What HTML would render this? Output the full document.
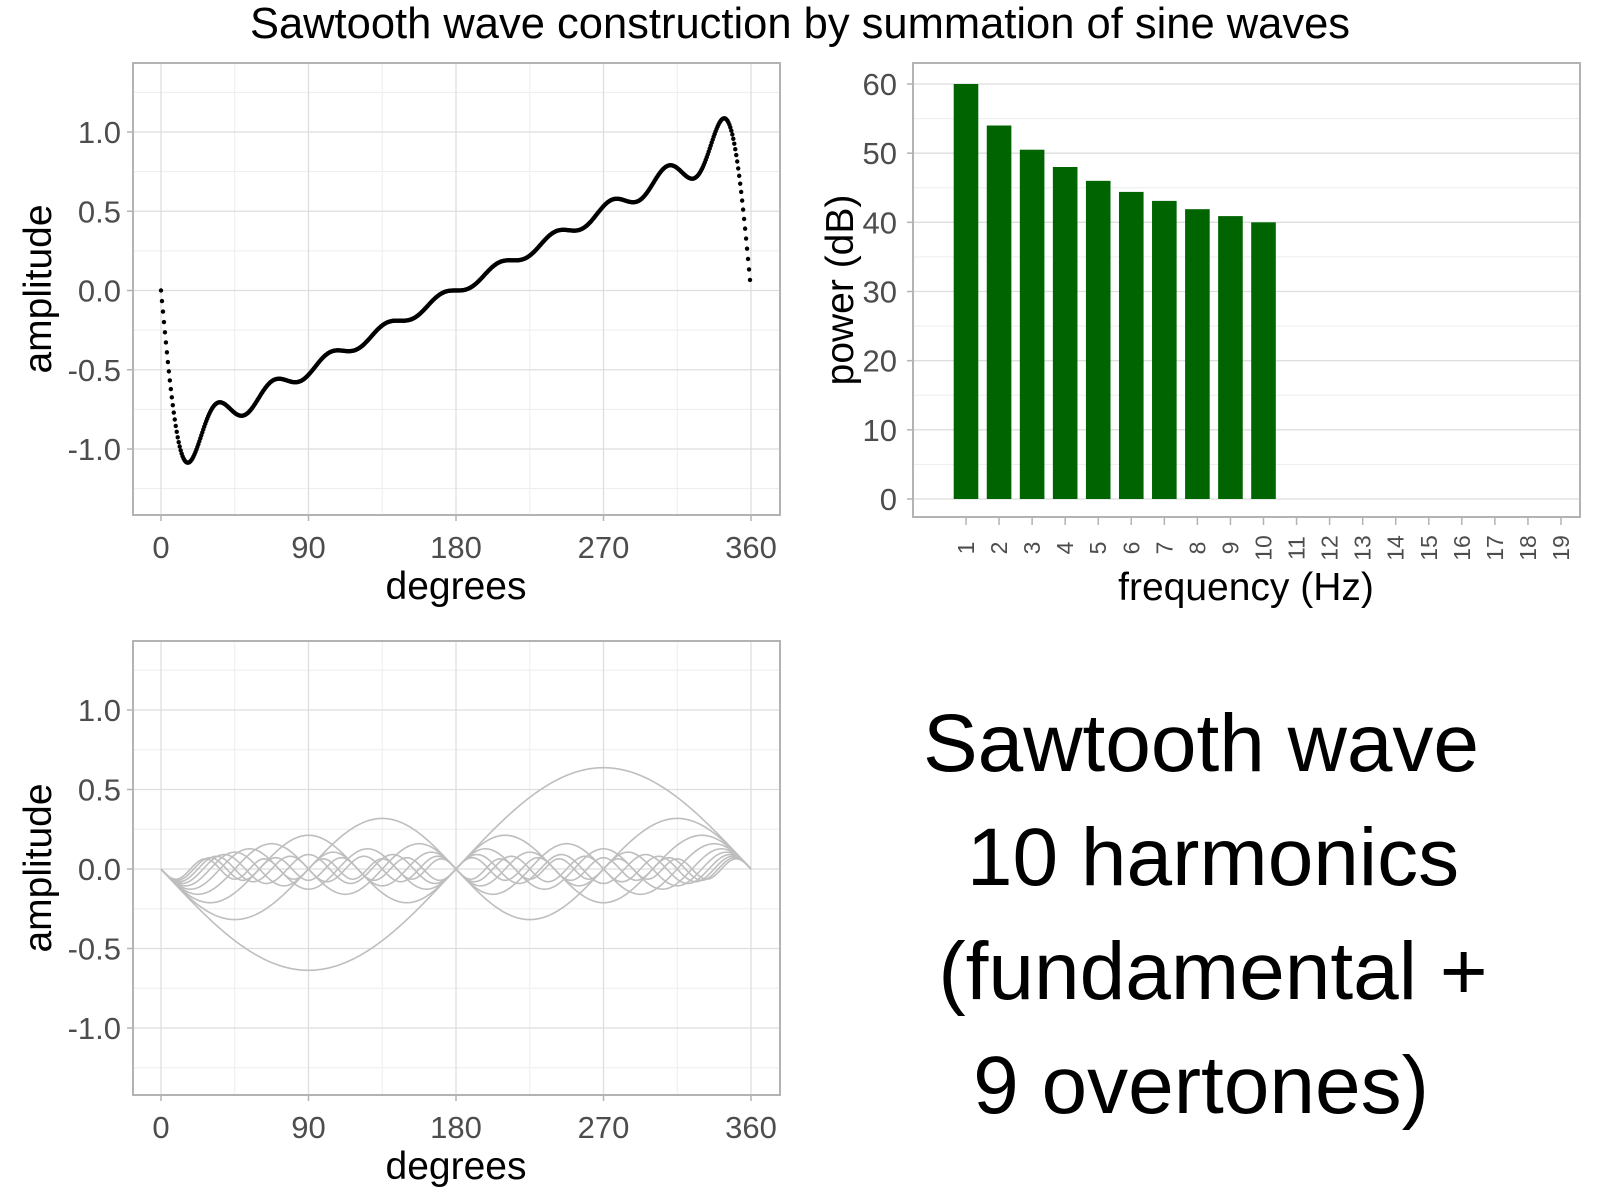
<!DOCTYPE html>
<html><head><meta charset="utf-8"><style>
html,body{margin:0;padding:0;background:#fff;}
svg{display:block;font-family:"Liberation Sans",Arial,sans-serif;}
</style></head><body>
<svg id="s" width="1600" height="1200" viewBox="0 0 1600 1200">
<text x="800" y="38" text-anchor="middle" font-size="43.5" fill="#000">Sawtooth wave construction by summation of sine waves</text>
<g id="big" font-size="82" fill="#000" text-anchor="middle">
<text x="1201" y="771">Sawtooth wave</text>
<text x="1213" y="885">10 harmonics</text>
<text x="1213" y="999">(fundamental +</text>
<text x="1201" y="1113">9 overtones)</text>
</g>
</svg>
<script>
// ---- data ----
const harmonics = [1,2,3,4,5,6,7,8,9,10];
const harmonicAmps = [-0.637,-0.318,-0.212,-0.159,-0.127,-0.106,-0.091,-0.080,-0.071,-0.064];
const freqCats = [1,2,3,4,5,6,7,8,9,10,11,12,13,14,15,16,17,18,19];
const powerDb = [60,54,50.5,48,46,44.4,43.1,41.9,40.9,40];
const degTicks = [0,90,180,270,360];
const ampTicks = [-1.0,-0.5,0.0,0.5,1.0];
const ampTickLabels = ["-1.0","-0.5","0.0","0.5","1.0"];
const powTicks = [0,10,20,30,40,50,60];

const NS="http://www.w3.org/2000/svg";
const svg=document.getElementById('s');
function el(tag,attrs,parent){const e=document.createElementNS(NS,tag);for(const k in attrs)e.setAttribute(k,attrs[k]);(parent||svg).appendChild(e);return e;}

function wavePanel(name,top,bottom,yZero,yOne,drawFn){
  const L=133,R=780;
  const g=el('g',{});
  
  
  const xs=d=>161+(751-161)*d/360;
  const ys=v=>yZero-(yZero-yOne)*v;
  el('rect',{x:L,y:top,width:R-L,height:bottom-top,fill:'#fff'},g);
  for(let v=-1.25;v<=1.26;v+=0.5){el('line',{x1:L,x2:R,y1:ys(v),y2:ys(v),stroke:'#ededed','stroke-width':1},g);}
  for(let d=45;d<360;d+=90){el('line',{x1:xs(d),x2:xs(d),y1:top,y2:bottom,stroke:'#ededed','stroke-width':1},g);}
  ampTicks.forEach(v=>{el('line',{x1:L,x2:R,y1:ys(v),y2:ys(v),stroke:'#dedede','stroke-width':1.3},g);});
  degTicks.forEach(d=>{el('line',{x1:xs(d),x2:xs(d),y1:top,y2:bottom,stroke:'#dedede','stroke-width':1.3},g);});
  drawFn(g,xs,ys);
  el('rect',{x:L,y:top,width:R-L,height:bottom-top,fill:'none',stroke:'#b3b3b3','stroke-width':2},g);
  ampTicks.forEach((v,i)=>{
    el('line',{x1:L-6,x2:L,y1:ys(v),y2:ys(v),stroke:'#b3b3b3','stroke-width':1.5},g);
    const t=el('text',{x:L-12,y:ys(v)+11,'text-anchor':'end','font-size':31,fill:'#4d4d4d'},g);
    
    
    t.textContent=ampTickLabels[i];
  });
  degTicks.forEach(d=>{
    el('line',{x1:xs(d),x2:xs(d),y1:bottom,y2:bottom+6,stroke:'#b3b3b3','stroke-width':1.5},g);
    const t=el('text',{x:xs(d),y:bottom+43,'text-anchor':'middle','font-size':31,fill:'#4d4d4d'},g);
    
    
    t.textContent=d;
  });
  const xt=el('text',{x:456,y:bottom+84,'text-anchor':'middle','font-size':39,fill:'#000'},g);
  
  
  xt.textContent='degrees';
  const cy=(top+bottom)/2;
  const yt=el('text',{x:0,y:0,transform:`translate(51,${cy}) rotate(-90)`,'text-anchor':'middle','font-size':39,fill:'#000'},g);
  
  
  yt.textContent='amplitude';
}

function comp(k,a,d){return a*Math.sin(k*d*Math.PI/180);}

wavePanel('sum-wave-panel',63,515,290.5,132,(g,xs,ys)=>{
  for(let i=0;i<600;i++){
    const d=i*0.6;
    let v=0;harmonics.forEach((k,j)=>{v+=comp(k,harmonicAmps[j],d);});
    const c=el('circle',{cx:xs(d),cy:ys(v),r:2.2,fill:'#000'},g);
    
    
  }
});
wavePanel('harmonics-panel',641,1095,869,710,(g,xs,ys)=>{
  harmonics.forEach((k,j)=>{
    let p='';
    for(let d=0;d<=360;d+=1){p+=(d?'L':'M')+xs(d).toFixed(2)+','+ys(comp(k,harmonicAmps[j],d)).toFixed(2);}
    const l=el('path',{d:p,fill:'none',stroke:'#bebebe','stroke-width':1.6},g);
    
    
  });
});

(function(){
  const L=913,R=1580,T=63,B=517;
  const g=el('g',{});
  
  
  const xs=c=>966+(1561-966)*(c-1)/18;
  const ys=v=>499-(499-84)*v/60;
  for(let v=5;v<=65;v+=10){if(ys(v)>T)el('line',{x1:L,x2:R,y1:ys(v),y2:ys(v),stroke:'#ededed','stroke-width':1},g);}
  powTicks.forEach(v=>el('line',{x1:L,x2:R,y1:ys(v),y2:ys(v),stroke:'#dedede','stroke-width':1.3},g));
  powerDb.forEach((v,i)=>{
    const c=harmonics[i];
    const r=el('rect',{x:xs(c)-12.3,y:ys(v),width:24.6,height:ys(0)-ys(v),fill:'#006400'},g);
    
    
  });
  el('rect',{x:L,y:T,width:R-L,height:B-T,fill:'none',stroke:'#b3b3b3','stroke-width':2},g);
  powTicks.forEach(v=>{
    el('line',{x1:L-6,x2:L,y1:ys(v),y2:ys(v),stroke:'#b3b3b3','stroke-width':1.5},g);
    const t=el('text',{x:L-16,y:ys(v)+11,'text-anchor':'end','font-size':31,fill:'#4d4d4d'},g);
    
    
    t.textContent=v;
  });
  freqCats.forEach(c=>{
    el('line',{x1:xs(c),x2:xs(c),y1:B,y2:B+8,stroke:'#b3b3b3','stroke-width':1.5},g);
    const t=el('text',{x:0,y:0,transform:`translate(${xs(c)+8},548) rotate(-90)`,'text-anchor':'middle','font-size':23,fill:'#4d4d4d'},g);
    
    
    t.textContent=c;
  });
  const xt=el('text',{x:1246,y:600,'text-anchor':'middle','font-size':39,fill:'#000'},g);
  
  
  xt.textContent='frequency (Hz)';
  const yt=el('text',{x:0,y:0,transform:'translate(853,290) rotate(-90)','text-anchor':'middle','font-size':39,fill:'#000'},g);
  
  
  yt.textContent='power (dB)';
})();
</script>
</body></html>
